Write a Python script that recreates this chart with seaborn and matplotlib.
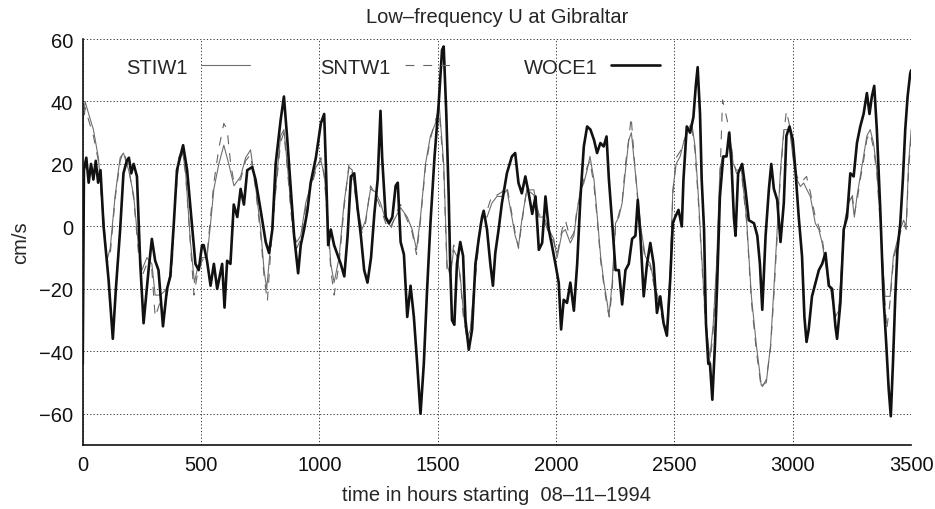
import numpy as np
import pandas as pd
import matplotlib
matplotlib.use('Agg')
import matplotlib.pyplot as plt
import seaborn as sns

# ── datos (horas, cm/s) ──────────────────────────────────────────────
woce_h = [0, 5, 15, 25, 35, 45, 55, 65, 75, 88, 109, 127, 140, 158, 172, 186, 195, 205, 215, 229,
          243, 257, 278, 292, 306, 320, 339, 356, 370, 384, 398, 424, 441, 455, 476, 490, 504, 511,
          525, 540, 554, 568, 589, 599, 610, 624, 638, 653, 667, 681, 695, 716, 730, 752, 773, 787,
          801, 815, 836, 850, 864, 879, 893, 910, 921, 935, 949, 963, 985, 1006, 1020, 1027, 1037,
          1048, 1062, 1076, 1090, 1105, 1119, 1133, 1147, 1161, 1175, 1189, 1203, 1218, 1232, 1246,
          1258, 1265, 1280, 1294, 1308, 1322, 1331, 1343, 1357, 1371, 1385, 1399, 1413, 1427, 1441,
          1455, 1469, 1486, 1504, 1518, 1525, 1536, 1546, 1553, 1560, 1570, 1581, 1595, 1607, 1617,
          1631, 1645, 1659, 1673, 1687, 1694, 1708, 1722, 1733, 1743, 1757, 1771, 1792, 1813, 1827,
          1841, 1855, 1870, 1884, 1899, 1913, 1927, 1941, 1955, 1969, 1983, 1997, 2011, 2021, 2032,
          2046, 2060, 2075, 2089, 2103, 2117, 2131, 2145, 2160, 2173, 2187, 2201, 2213, 2223, 2237,
          2251, 2265, 2279, 2293, 2307, 2321, 2335, 2345, 2356, 2370, 2384, 2398, 2412, 2426, 2440,
          2454, 2468, 2482, 2493, 2503, 2517, 2531, 2538, 2552, 2566, 2580, 2590, 2598, 2608, 2615,
          2625, 2633, 2643, 2650, 2660, 2671, 2681, 2692, 2706, 2720, 2731, 2741, 2751, 2758, 2769,
          2786, 2800, 2814, 2836, 2850, 2861, 2871, 2885, 2899, 2909, 2920, 2934, 2948, 2962, 2973,
          2986, 3000, 3011, 3025, 3039, 3049, 3058, 3067, 3081, 3096, 3110, 3124, 3138, 3152, 3166,
          3180, 3187, 3201, 3215, 3229, 3243, 3257, 3271, 3285, 3299, 3313, 3324, 3334, 3344, 3355,
          3369, 3383, 3395, 3405, 3414, 3423, 3433, 3442, 3454, 3465, 3475, 3485, 3496, 3500]
woce_u = [-44, 18, 22, 14, 20, 15, 21, 14, 18, 0, -17, -36, -20, -1, 17, 21, 22, 17, 20, 16,
          -12, -31, -14, -4, -11, -14, -32, -20, -16, 0, 18, 26, 18, 6, -12, -14, -6, -6,
          -11, -19, -12, -20, -12, -26, -11, -12, 7, 3, 12, 7, 18, 19, 15, 5, -5, -8.5,
          -1, 20, 34, 41.6, 28, 12, -3, -15, -6, -1, 5, 14, 22, 33, 36, 20, -6,
          -1, -6, -9, -12, -16, -3, 16, 17, 6, -3, -14, -18, -10, 4, 15,
          37, 22, 3, 1, 3, 13, 14, -5, -9, -29, -19, -29, -44, -60, -44,
          -20, 1, 22, 39.5, 56.5, 57.6, 36, 10, -14, -30, -31.5, -12, -5, -9.5, -30,
          -39.5, -33, -12, -4, 3, 5, -1, -12, -19, -8.5, -1, 7.5, 17, 22.4, 23.5,
          13.9, 10.6, 16, 10.6, 4, 9.6, -7.5, -5.3, 9.6, -1, -6.4, -12, -18, -33, -23.5,
          -24.5, -18, -27, -12, 9.6, 25.6, 32, 31, 27.7, 23.5, 26.7, 25.6, 28.8, 15, 1,
          -14, -14, -25, -14, -12, -4, -3, 8.5, -3, -22.4, -12, -5.3, -12, -27.7, -22.4,
          -31, -35, -17, 1, 3, 5.3, 0, 15, 32, 30, 35, 45, 51, 36, 15,
          -1, -31, -44, -44, -55.5, -38, -17, 9.6, 22.4, 22.4, 30, 20, 3, -3, 17,
          20, 11.7, 2, 1, -3, -12, -26.7, -3, 12, 20, 12, 8.5, -5, 7.5, 29,
          32, 27.7, 18, 3, -9.6, -29, -37, -33, -22.4, -18, -14, -12, -8.5, -19, -20,
          -32, -36, -24.5, -1, 3, 17, 16, 26.7, 32, 36, 42.7, 36, 41.6, 45, 31,
          6.4, -22.4, -38, -52, -60.8, -44, -22.4, -7.5, 1, 15, 31, 41.6, 49, 50]

stiw_h = [0, 10, 25, 45, 66, 88, 102, 116, 137, 158, 172, 194, 215, 236, 250, 271, 292, 306, 328,
          356, 377, 391, 405, 420, 434, 455, 472, 483, 504, 525, 540, 554, 575, 596, 617, 639, 667,
          688, 709, 730, 752, 766, 777, 794, 815, 836, 850, 864, 879, 893, 904, 921, 942, 963, 985,
          1006, 1020, 1034, 1048, 1062, 1083, 1104, 1125, 1139, 1160, 1180, 1195, 1216, 1237, 1258,
          1280, 1301, 1322, 1343, 1371, 1392, 1410, 1427, 1448, 1469, 1490, 1506, 1525, 1539, 1553,
          1567, 1581, 1595, 1609, 1623, 1638, 1652, 1666, 1680, 1694, 1708, 1729, 1750, 1771, 1792,
          1813, 1827, 1841, 1855, 1876, 1906, 1927, 1948, 1969, 1990, 2004, 2025, 2039, 2060, 2075,
          2089, 2103, 2117, 2131, 2143, 2160, 2174, 2188, 2202, 2216, 2223, 2237, 2251, 2265, 2279,
          2293, 2307, 2318, 2331, 2345, 2359, 2377, 2398, 2419, 2440, 2454, 2468, 2482, 2493, 2507,
          2524, 2538, 2555, 2573, 2587, 2601, 2615, 2629, 2643, 2650, 2664, 2678, 2692, 2703, 2717,
          2734, 2748, 2762, 2783, 2804, 2825, 2846, 2867, 2888, 2906, 2920, 2934, 2948, 2962, 2973,
          2987, 3004, 3018, 3032, 3046, 3058, 3074, 3095, 3110, 3124, 3138, 3152, 3166, 3180, 3194,
          3208, 3222, 3236, 3250, 3260, 3271, 3285, 3299, 3313, 3327, 3341, 3355, 3369, 3380, 3390,
          3397, 3411, 3425, 3439, 3454, 3468, 3479, 3489, 3500]
stiw_u = [33, 40, 36, 31, 22, 3, -11, -7, 10, 22, 23.5, 18, 10, -7, -14, -10, -12, -22, -22,
          -20, -12, 10, 22, 24.5, 18, -5, -18, -14, -10, -10, 1, 12, 20, 26, 20, 13, 16,
          22, 24.5, 13, -1, -14, -20, -6, 12, 29, 31, 20, 7, -3, -5, -3, 7.5, 13, 19,
          21, 17, 4, -12, -18, -10, 7.5, 19, 18, 6, -1, 2, 12, 11, 7.5,
          2, 0, 3, 6, 3, -1, -7.5, 3, 20, 29, 33, 39, 20, -12, -16,
          -7.5, -9.6, -16, -28, -36, -33, -20, -9.6, 1, 3, 3, 7.5, 9.6, 9.6, 11.7,
          3, -3, -6.4, 2, 11.7, 11.7, 3, 3, -1, -4, -10, -2, -1, -5.3, -3,
          5.3, 11.7, 13.9, 18, 22.4, 14.9, 3, -9.6, -18, -24.5, -28.8, -18, 1, 3, 7.5,
          18, 27.7, 30, 20, 9.6, -1, -9.6, -12, -20, -24.5, -31, -33, -14, 11.7, 20,
          22.4, 26.7, 31, 33, 25.6, 9.6, -9.6, -27.7, -38, -42, -31, -12, 18, 22.4, 22.4,
          29, 20, 18, 18, 3, -22.4, -38, -51, -50, -38, -20, -1, 18, 31, 31,
          31, 20, 14.9, 12.8, 13.9, 12, 9.6, 1, -1, -5.3, -12, -18, -22.4, -29, -27,
          -9.6, 3, 7.5, 9.6, 3, 9.6, 16, 22.4, 29, 31, 26.7, 18, 3, -12, -22.4,
          -22.4, -22.4, -9.6, -5.3, -1, 2, 0, 20, 31]

sntw_h = [0, 10, 25, 45, 66, 88, 102, 116, 137, 158, 172, 194, 215, 236, 250, 271, 292, 306, 328,
          356, 377, 391, 405, 420, 434, 455, 470, 483, 504, 525, 540, 554, 575, 596, 610, 625, 639,
          667, 688, 709, 730, 752, 766, 780, 794, 815, 836, 850, 864, 879, 893, 904, 921, 942, 963,
          985, 1006, 1020, 1034, 1048, 1062, 1083, 1104, 1125, 1139, 1160, 1180, 1195, 1216, 1237,
          1258, 1280, 1301, 1322, 1343, 1371, 1392, 1410, 1427, 1448, 1469, 1490, 1506, 1525, 1539,
          1553, 1567, 1581, 1595, 1609, 1623, 1638, 1652, 1666, 1680, 1694, 1708, 1729, 1750, 1771,
          1792, 1813, 1827, 1841, 1855, 1876, 1906, 1927, 1948, 1969, 1990, 2004, 2025, 2039, 2060,
          2075, 2089, 2103, 2117, 2131, 2143, 2160, 2174, 2188, 2202, 2216, 2225, 2237, 2251, 2265,
          2279, 2293, 2307, 2317, 2331, 2345, 2359, 2377, 2398, 2419, 2440, 2454, 2468, 2482, 2493,
          2507, 2524, 2538, 2555, 2573, 2587, 2601, 2615, 2629, 2643, 2650, 2664, 2678, 2692, 2703,
          2717, 2734, 2748, 2762, 2783, 2804, 2825, 2846, 2867, 2888, 2906, 2920, 2934, 2948, 2962,
          2973, 2987, 3004, 3018, 3032, 3046, 3058, 3074, 3095, 3110, 3124, 3138, 3152, 3166, 3180,
          3194, 3208, 3222, 3236, 3250, 3260, 3271, 3285, 3299, 3313, 3327, 3341, 3355, 3369, 3380,
          3390, 3397, 3411, 3425, 3439, 3454, 3468, 3479, 3489, 3500]
sntw_u = [30, 38, 34, 29, 21, 1, -12, -9, 9, 21, 24, 19, 9, -9, -16, -12, -14, -29, -24,
          -22, -14, 8, 20, 24, 17, -6, -22, -16, -11, -9, 3, 14, 25, 33, 31, 20, 14,
          15, 21, 23, 12, -3, -16, -24, -8, 11, 27, 30, 19, 5, -4, -7, -4, 6, 12,
          18, 22, 16, 2, -14, -22, -12, 6, 20, 17, 5, -2, 1, 13, 10,
          6, 1, -1, 4, 7, 2, -2, -9, 2, 19, 28, 34, 37, 18, -14,
          -15, -6, -8, -17, -30, -35, -34, -22, -11, 0, 4, 5, 10, 10, 11,
          13, 4, -2, -7, 1, 12, 10, 4, 2, -2, -5, -9, -1, 2, -4,
          -2, 6, 10, 15, 19, 21, 13, 2, -11, -19, -26, -29, -20, 0, 4,
          8, 20, 28, 35, 21, 8, -2, -11, -13, -21, -26, -32, -34, -16, 10,
          22, 24, 27, 30, 32, 24, 8, -11, -29, -40, -44, -33, -14, 15, 40.5,
          36, 30, 21, 17, 17, 2, -24, -40, -52, -49, -39, -22, -3, 17, 30,
          37, 32, 21, 16, 14, 15, 16, 11, 3, 0, -4, -11, -17, -23, -30,
          -28, -11, 2, 8, 11, 4, 8, 15, 21, 28, 30, 25, 17, 1, -13,
          -25, -33, -24, -11, -6, -2, 1, -1, 18, 29]

series_names = ['STIW1', 'SNTW1', 'WOCE1']
x_ticks = [0, 500, 1000, 1500, 2000, 2500, 3000, 3500]
y_ticks = [-60, -40, -20, 0, 20, 40, 60]

# ── estilo ────────────────────────────────────────────────────────────
sns.set_theme(style='white')
plt.rcParams['font.family'] = ['Liberation Sans', 'DejaVu Sans']
plt.rcParams['font.size'] = 14.5

fig = plt.figure(figsize=(9.35, 5.1), dpi=100)
ax = fig.add_axes([0.0885, 0.1255, 0.886, 0.796])

sns.lineplot(x=stiw_h, y=stiw_u, ax=ax, color='#6f6f6f', lw=0.8, label=series_names[0],
             estimator=None, sort=False)
sns.lineplot(x=sntw_h, y=sntw_u, ax=ax, color='#666666', lw=0.8, label=series_names[1],
             estimator=None, sort=False, dashes=False)
ax.lines[-1].set_dashes((8, 8))
sns.lineplot(x=woce_h, y=woce_u, ax=ax, color='#111111', lw=1.9, label=series_names[2],
             estimator=None, sort=False)

ax.set_xlim(0, 3500)
ax.set_ylim(-70, 60)
ax.set_xticks(x_ticks)
ax.set_yticks(y_ticks)
ax.tick_params(length=0, labelsize=14.5, pad=7, colors='#111111')
ax.grid(True, color='k', linestyle=(0, (1.5, 2.5)), lw=0.6)
ax.set_axisbelow(True)
for s in ['top', 'right']:
    ax.spines[s].set_visible(False)
for s in ['left', 'bottom']:
    ax.spines[s].set_color('#111111')
    ax.spines[s].set_linewidth(1.2)

ax.set_title('Low\u2013frequency U at Gibraltar', fontsize=14.5, pad=12)
ax.set_xlabel('time in hours starting  08\u201311\u20131994', fontsize=14.5, labelpad=8)
ax.set_ylabel('cm/s', fontsize=14.5, labelpad=6)

ax.legend(ncol=3, frameon=False, markerfirst=False, loc='center left',
          bbox_to_anchor=(0.03, 0.931), handlelength=2.4, handletextpad=0.7,
          columnspacing=3.5, fontsize=14.5)

plt.savefig('out.png', dpi=100)
plt.close()
